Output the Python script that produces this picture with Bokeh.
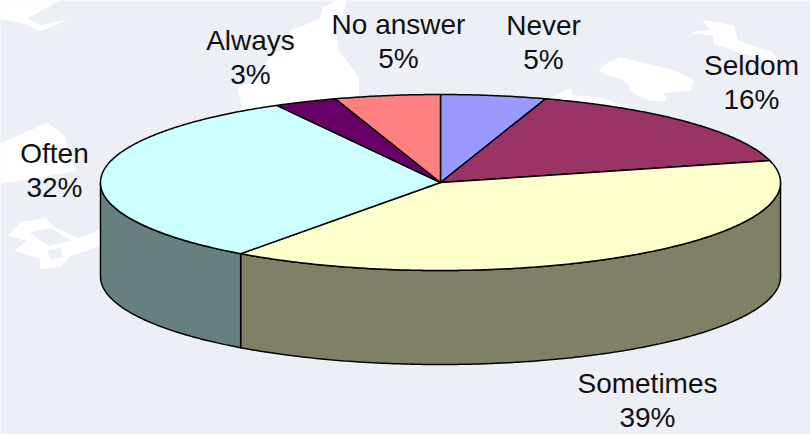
import numpy as np
from bokeh.core.properties import value
from bokeh.embed import file_html
from bokeh.models import Range1d
from bokeh.plotting import figure
from bokeh.resources import INLINE

# Survey answers, clockwise from twelve o'clock
categories = ["Never", "Seldom", "Sometimes", "Often", "Always", "No answer"]
shares = [5, 16, 39, 32, 3, 5]
top_colors = ["#9999FF", "#993366", "#FFFFCC", "#CCFFFF", "#660066", "#FF8080"]
wall_colors = ["#4D4D80", "#4D1A33", "#808066", "#668080", "#330033", "#804040"]

# Disc geometry in page pixels
CX, CY = 440.0, 182.0
RX, RY = 340.0, 88.0
DEPTH = 94.0
BG = "#EDEFF7"

# Pale map shapes behind the chart
land_shapes = [
    ([0, 58, 26, 40, 65, 40, 25, 0], [0, 0, 18, 25, 20, 30, 23, 18]),
    ([337, 323, 320, 300, 290, 292, 273, 263, 273, 247, 238, 242, 358, 358, 338, 335, 340, 345],
     [0, 7, 18, 27, 30, 45, 53, 65, 73, 83, 87, 110, 110, 77, 50, 33, 20, 0]),
    ([0, 47, 63, 75, 60, 0], [143, 123, 135, 170, 173, 183]),
    ([8, 20, 45, 55, 78, 100, 100, 70, 60, 40, 40, 15, 28],
     [235, 222, 218, 228, 238, 230, 245, 255, 266, 268, 258, 250, 240]),
    ([599, 608, 620, 640, 673, 693, 690, 663, 665, 650, 633, 625, 603],
     [70, 62, 57, 62, 70, 80, 90, 92, 100, 100, 92, 80, 73]),
    ([703, 733, 737, 773, 777, 740, 713, 713, 693, 710],
     [20, 25, 40, 53, 62, 52, 43, 35, 32, 30]),
    ([550, 570, 572, 603, 630, 600], [98, 88, 95, 98, 108, 108]),
]
land_gaps = [
    ([30, 50, 70, 48], [232, 228, 240, 245]),
    ([48, 60, 62, 50], [250, 248, 256, 258]),
]

LABEL_X = [543, 751, 647, 54, 250, 398]
LABEL_Y = [25, 65, 383, 153, 40, 24]
LINE_GAP = 34

p = figure(width=810, height=434, output_backend="svg", toolbar_location=None,
           x_range=Range1d(0, 810), y_range=Range1d(434, 0),
           min_border=0, background_fill_color=BG, border_fill_color=BG,
           outline_line_color=None)
p.axis.visible = False
p.grid.visible = False

for xs, ys in land_shapes:
    p.patch(xs, ys, fill_color="#FFFFFF", line_color="#FFFFFF", line_width=1)
for xs, ys in land_gaps:
    p.patch(xs, ys, fill_color=BG, line_color=BG, line_width=1)


def rim(a0, a1):
    """Points on the top ellipse between two clockwise angles from north."""
    t = np.radians(np.linspace(a0, a1, max(int(a1 - a0) * 2, 2)))
    return CX + RX * np.sin(t), CY - RY * np.cos(t)


edges = np.cumsum([0] + shares) / sum(shares) * 360.0

# Outer walls: only the arc on the near side of the disc is visible
for a0, a1, color in zip(edges[:-1], edges[1:], wall_colors):
    lo, hi = max(a0, 90.0), min(a1, 270.0)
    if hi <= lo:
        continue
    x, y = rim(lo, hi)
    p.patch(np.r_[x, x[::-1]], np.r_[y, y[::-1] + DEPTH],
            fill_color=color, line_color="black", line_width=1.5)

# Top face slices
for a0, a1, color in zip(edges[:-1], edges[1:], top_colors):
    x, y = rim(a0, a1)
    p.patch(np.r_[CX, x], np.r_[CY, y], fill_color=color,
            line_color="black", line_width=1.5, line_join="round")

# Two-line labels: name, then share
for name, share, lx, ly in zip(categories, shares, LABEL_X, LABEL_Y):
    p.text([lx, lx], [ly, ly + LINE_GAP], text=[name, f"{share}%"],
           text_font=value("Liberation Sans"), text_font_size="28px",
           text_color="#111111", text_align="center", text_baseline="middle")

open("out.html", "w").write(file_html(p, INLINE))
